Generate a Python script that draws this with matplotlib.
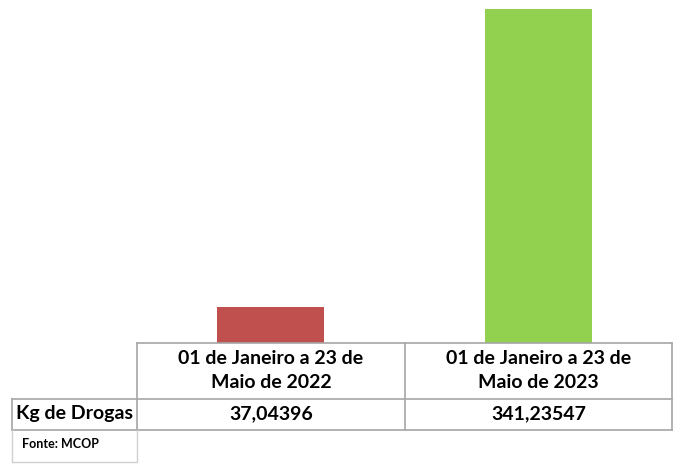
import matplotlib.pyplot as plt

# data
periodos = ['01 de Janeiro a 23 de\nMaio de 2022', '01 de Janeiro a 23 de\nMaio de 2023']
kg_drogas = [37.04396, 341.23547]
rotulos = ['37,04396', '341,23547']
cores = ['#C0504D', '#92D050']
serie = 'Kg de Drogas'
fonte = 'Fonte: MCOP'

W, H = 689, 466
fig = plt.figure(figsize=(W / 100, H / 100), dpi=100)
plt.rcParams['font.family'] = ['Lato', 'DejaVu Sans']

# bar area (pixel layout -> figure fractions)
x0, x1 = 137, 672
ybot = 343
ymax = 350
px_per_unit = 334 / 341.23547
ytop = ybot - ymax * px_per_unit
ax = fig.add_axes([x0 / W, 1 - ybot / H, (x1 - x0) / W, (ybot - ytop) / H])
ax.bar(range(len(kg_drogas)), kg_drogas, width=0.4, color=cores)
ax.set_xlim(-0.5, len(kg_drogas) - 0.5)
ax.set_ylim(0, ymax)
ax.axis('off')

# overlay for the data table, pixel coordinates
ov = fig.add_axes([0, 0, 1, 1])
ov.set_xlim(0, W)
ov.set_ylim(H, 0)
ov.axis('off')

gc = '#a6a6a6'
cols = [137, 405, 672]
ov.plot([137, 672], [343, 343], color=gc, lw=1.2)
ov.plot([12, 672], [399, 399], color=gc, lw=1.2)
ov.plot([12, 672], [430, 430], color=gc, lw=1.2)
for cx in cols:
    ov.plot([cx, cx], [343, 430], color=gc, lw=1.2)
ov.plot([12, 12], [399, 430], color=gc, lw=1.2)

# fonte box
lc = '#d0d0d0'
ov.plot([12, 12, 137, 137], [430, 462, 462, 430], color=lc, lw=1)

for i, (p, r) in enumerate(zip(periodos, rotulos)):
    cx = (cols[i] + cols[i + 1]) / 2
    ov.text(cx, 371, p, ha='center', va='center', fontsize=14,
            fontweight='bold', linespacing=1.5)
    ov.text(cx, 414, r, ha='center', va='center', fontsize=14, fontweight='bold')

ov.text(16, 414, serie, ha='left', va='center', fontsize=14, fontweight='bold')
ov.text(22, 444, fonte, ha='left', va='center', fontsize=9, fontweight='bold')

fig.savefig('out.png', dpi=100)
